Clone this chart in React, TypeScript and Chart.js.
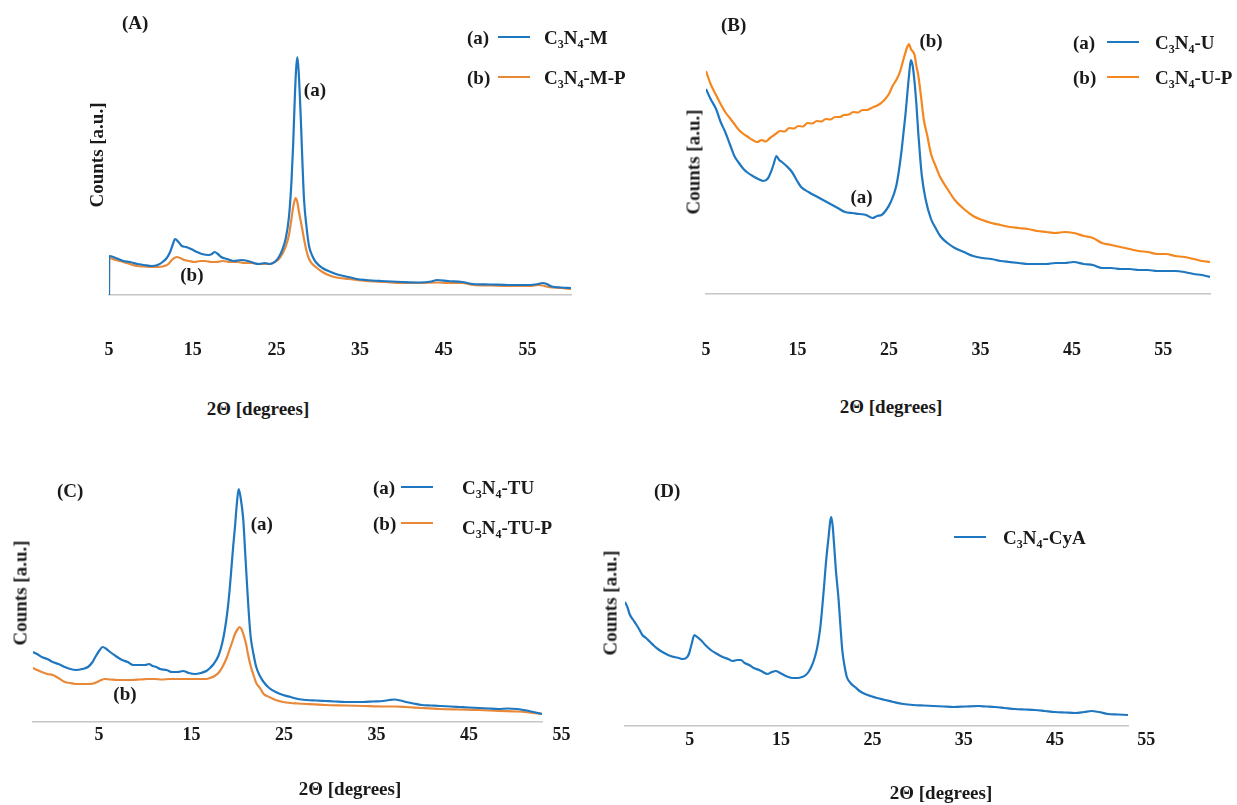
import React, { useEffect, useRef } from 'react';
import { Chart, registerables } from 'chart.js';

Chart.register(...registerables);

const FONT = '"Liberation Serif", "Times New Roman", serif';
const TEXT = '#1a1a1a';
const BLUE = '#1f77c0';
const ORANGE = '#e8893a';
const ORANGE_B = '#f5871f';

// tick labels
const X_TICKS = [5, 15, 25, 35, 45, 55];

// Panel A: C3N4-M (a), C3N4-M-P (b)
const A_M: number[][] = [
  [5, 0], [5.02, 39], [5.8, 37], [6.7, 34], [7.5, 33], [8.4, 31], [9.2, 30], [10.1, 29], [10.8, 30], [11.4, 33],
  [11.9, 37], [12.3, 43], [12.6, 50], [12.9, 56], [13.3, 53], [13.7, 49], [14.2, 48], [14.8, 46], [15.5, 43], [16.1, 41],
  [16.9, 40], [17.3, 41], [17.6, 43], [18.0, 41], [18.4, 38], [19.1, 36], [19.9, 34], [20.8, 35], [21.6, 34], [22.3, 32],
  [22.9, 31], [23.6, 32], [24.2, 31], [24.8, 33], [25.3, 38], [25.7, 45], [26.1, 56], [26.5, 78], [26.8, 113], [27.0, 150],
  [27.2, 197], [27.35, 225], [27.5, 238], [27.65, 225], [27.9, 180], [28.1, 135], [28.3, 96], [28.6, 68], [28.9, 49], [29.3, 39],
  [29.7, 33], [30.5, 27], [31.5, 23], [32.5, 20], [33.6, 18], [34.6, 16], [35.7, 15], [37.5, 14], [40.0, 13], [42.1, 12.5],
  [43.5, 13.5], [44.2, 15], [45.5, 14], [47.2, 13], [48.5, 11], [50.5, 10.5], [52.8, 10], [55.3, 10], [56.3, 11], [56.8, 12],
  [57.3, 11], [57.9, 8.5], [59.0, 7.5], [60.2, 7],
];
const A_MP: number[][] = [
  [5, 0], [5.02, 37], [5.8, 35], [6.7, 33], [7.5, 31], [8.4, 29], [9.2, 28.5], [10.1, 28], [10.9, 28], [11.6, 29],
  [12.1, 31], [12.5, 35], [13.1, 38], [13.5, 37], [14.0, 35], [14.6, 34], [15.2, 33], [15.9, 34], [16.5, 34], [17.2, 33],
  [17.8, 33], [18.6, 34], [19.5, 33], [20.4, 33], [21.2, 32], [22.0, 32], [22.9, 31], [23.6, 31], [24.2, 31], [24.8, 33],
  [25.3, 36], [25.7, 41], [26.1, 48], [26.5, 60], [26.8, 76], [27.05, 90], [27.3, 97], [27.5, 93], [27.7, 83], [28.0, 70],
  [28.3, 56], [28.6, 44], [28.9, 36], [29.3, 31], [29.7, 28], [30.5, 23], [31.5, 19], [32.5, 17], [33.6, 16], [35.7, 14],
  [38.0, 13], [40.0, 12], [42.1, 12], [44.2, 12.5], [45.5, 12], [47.2, 12], [48.5, 10], [50.5, 9.5], [52.8, 9], [55.3, 9],
  [56.3, 10], [56.8, 9.5], [57.5, 8], [59.0, 7], [60.2, 6],
];

// Panel B: C3N4-U (a), C3N4-U-P (b)
const B_U: number[][] = [
  [5.0, 205], [5.5, 195], [6.1, 185], [6.6, 172], [7.1, 162], [7.6, 150], [8.1, 138], [8.6, 131], [9.1, 125], [9.6, 121],
  [10.1, 118], [10.7, 115], [11.3, 113], [11.8, 116], [12.1, 122], [12.4, 130], [12.7, 138], [13.0, 134], [13.3, 132], [13.8, 128],
  [14.4, 122], [14.9, 114], [15.4, 107], [16.2, 102], [17.0, 98], [17.8, 94], [18.6, 90], [19.4, 86], [20.2, 82], [21.0, 81],
  [21.8, 80], [22.5, 79], [23.2, 76], [23.7, 78], [24.2, 79], [24.7, 84], [25.2, 92], [25.8, 108], [26.1, 124], [26.4, 145],
  [26.8, 179], [27.2, 219], [27.4, 234], [27.6, 228], [27.8, 212], [28.0, 190], [28.2, 162], [28.4, 138], [28.6, 118], [29.0, 95],
  [29.6, 75], [30.1, 66], [30.6, 58], [31.4, 51], [32.2, 46], [33.2, 42], [34.2, 38], [35.2, 36], [36.2, 35], [37.2, 33],
  [38.2, 32], [39.2, 31], [40.2, 30], [41.2, 30], [42.2, 30], [43.2, 31], [44.2, 31], [45.2, 32], [46.3, 30], [47.3, 29],
  [48.3, 26], [49.3, 26], [50.3, 25], [51.3, 25], [52.3, 24], [53.3, 24], [54.3, 23], [55.3, 23], [56.3, 23], [57.3, 22],
  [58.3, 20], [59.2, 19], [60.1, 17],
];
const B_UP: number[][] = [
  [5.0, 223], [5.5, 210], [6.1, 199], [6.6, 190], [7.1, 182], [7.6, 176], [8.1, 170], [8.6, 164], [9.1, 160], [9.6, 157],
  [10.1, 154], [10.6, 152], [11.1, 154], [11.5, 152.5], [12.0, 156], [12.6, 160], [13.1, 163], [13.6, 162.5], [14.1, 166], [14.6, 165.5],
  [15.1, 168], [15.6, 167.5], [16.1, 171], [16.6, 170.5], [17.1, 173], [17.6, 172.5], [18.1, 175], [18.6, 174.5], [19.1, 177], [19.6, 177],
  [20.1, 179], [20.6, 179.5], [21.1, 182], [21.6, 181.5], [22.1, 184], [22.6, 184], [23.1, 186], [23.6, 188], [24.0, 190], [24.5, 194],
  [25.0, 200], [25.4, 208], [25.8, 214], [26.2, 222], [26.6, 235], [27.0, 247], [27.2, 250], [27.4, 245], [27.8, 239], [28.0, 228],
  [28.2, 219], [28.5, 198], [28.8, 175], [29.2, 158], [29.6, 140], [30.1, 128], [30.6, 117], [31.4, 105], [32.2, 94], [33.2, 85],
  [34.2, 78], [35.2, 74], [36.2, 71], [37.2, 69], [38.2, 67], [39.2, 66], [40.2, 65], [41.2, 63], [42.2, 62], [43.2, 61],
  [44.2, 62], [45.2, 61], [46.3, 58], [47.3, 56], [48.3, 51], [49.3, 49], [50.3, 47], [51.3, 45], [52.3, 43], [53.3, 42],
  [54.3, 40], [55.3, 40], [56.3, 38], [57.3, 37], [58.3, 35], [59.2, 33], [60.1, 32],
];

// Panel C: C3N4-TU (a), C3N4-TU-P (b)
const C_TU: number[][] = [
  [-2.14, 70], [-1.7, 68], [-1.2, 65], [-0.6, 63], [0, 60], [0.6, 58], [1.3, 55], [1.9, 53], [2.5, 52], [3.2, 53],
  [3.8, 55], [4.3, 60], [4.6, 65], [5.0, 71], [5.4, 75], [5.8, 73], [6.2, 70], [6.8, 66], [7.5, 62], [8.1, 60],
  [8.7, 57], [9.4, 57], [10.0, 57], [10.4, 58], [10.8, 56], [11.2, 55], [11.6, 53], [12.3, 52], [12.9, 50], [13.5, 50],
  [14.1, 51], [14.7, 49], [15.4, 48], [16.0, 49], [16.6, 51], [17.0, 54], [17.4, 58], [17.9, 66], [18.3, 78], [18.6, 92],
  [18.9, 112], [19.1, 130], [19.3, 152], [19.5, 175], [19.7, 195], [19.9, 218], [20.1, 233], [20.3, 225], [20.6, 202], [20.8, 170],
  [21.0, 138], [21.2, 108], [21.4, 85], [21.7, 68], [22.0, 55], [22.4, 46], [22.8, 40], [23.4, 34], [24.1, 30], [24.9, 27],
  [25.7, 25], [26.5, 23], [27.4, 22], [28.5, 21.5], [29.5, 21], [30.5, 20.5], [31.6, 20], [32.6, 20], [33.6, 20], [34.6, 20.5],
  [35.7, 21], [36.4, 22], [37.0, 22.5], [37.6, 21.5], [38.2, 20], [39.0, 18.5], [39.9, 17], [40.9, 16.5], [41.9, 16], [43.0, 15.5],
  [44.0, 15], [45.0, 14.5], [46.1, 14], [47.1, 13.5], [48.2, 13], [49.2, 13.5], [50.2, 13], [50.9, 12], [51.5, 11], [52.2, 9.5],
  [52.9, 8],
];
const C_TUP: number[][] = [
  [-2.14, 54], [-1.7, 52], [-1.2, 50], [-0.6, 48], [0, 47], [0.6, 44], [1.3, 40], [1.9, 39], [2.5, 38], [3.2, 38],
  [3.8, 38], [4.4, 38.5], [4.8, 40], [5.6, 43], [6.2, 42.5], [7.0, 42], [7.8, 42], [8.6, 42], [9.4, 42.5], [10.2, 43],
  [11.0, 43], [11.8, 42.5], [12.6, 43], [13.4, 43], [14.2, 43], [15.0, 43], [15.8, 43], [16.6, 43], [17.0, 44], [17.5, 46],
  [18.0, 50], [18.4, 56], [18.8, 64], [19.1, 72], [19.4, 80], [19.7, 88], [20.0, 93], [20.2, 95], [20.4, 93], [20.6, 88],
  [20.9, 78], [21.1, 68], [21.4, 56], [21.7, 47], [22.0, 39], [22.4, 34], [22.8, 28], [23.4, 25], [24.1, 22], [24.9, 20],
  [25.7, 19], [26.5, 18.5], [27.4, 18], [29.5, 17], [31.6, 16.5], [33.6, 16], [35.7, 15.5], [37.0, 15.5], [38.2, 15], [39.9, 14],
  [41.9, 13], [44.0, 12.5], [46.1, 12], [48.2, 11], [50.2, 10.5], [51.5, 9.5], [52.9, 8],
];

// Panel D: C3N4-CyA
const D_CYA: number[][] = [
  [-2.1, 124], [-1.8, 118], [-1.6, 112], [-1.2, 106], [-0.9, 102], [-0.5, 96], [-0.2, 91], [0.2, 88], [0.65, 84], [1.1, 80],
  [1.5, 77], [2.0, 74], [2.4, 72], [2.9, 70], [3.3, 69], [3.8, 68], [4.2, 67], [4.6, 68], [4.9, 72], [5.2, 82],
  [5.5, 91], [5.8, 89], [6.2, 86], [6.7, 81], [7.3, 76], [8.0, 72], [8.6, 69], [9.2, 67], [9.7, 65], [10.2, 66],
  [10.6, 66], [11.0, 63], [11.5, 61], [12.0, 58], [12.6, 56], [13.0, 54], [13.5, 52], [14.0, 54], [14.4, 55], [14.9, 53],
  [15.3, 51], [15.8, 49], [16.2, 48], [16.8, 48], [17.3, 49], [17.7, 51], [18.0, 54], [18.3, 59], [18.6, 66], [18.9, 76],
  [19.1, 86], [19.3, 99], [19.5, 118], [19.7, 139], [19.9, 162], [20.2, 189], [20.4, 206], [20.5, 209], [20.65, 200], [20.8, 182],
  [21.0, 156], [21.3, 126], [21.5, 100], [21.7, 76], [21.95, 60], [22.2, 49], [22.6, 43], [23.1, 39], [23.6, 35], [24.2, 32],
  [24.8, 30], [25.5, 28], [26.4, 26], [27.3, 24], [28.4, 22], [29.5, 21], [30.6, 20.5], [31.7, 20], [32.8, 19.5], [33.9, 19],
  [35.2, 19.5], [36.6, 20], [37.5, 19.5], [38.4, 19], [39.5, 18], [40.6, 17], [41.7, 16.5], [42.8, 16], [43.9, 15], [45.0, 14],
  [46.1, 13.5], [47.2, 13], [48.2, 14], [49.0, 15], [49.8, 14], [50.8, 12], [51.9, 11.5], [53.0, 11],
];

type Note = { x: number; y: number; text: string };
type Series = { data: number[][]; color: string };
type PanelDef = {
  area: { l: number; t: number; r: number; b: number };
  xMin: number;
  xMax: number;
  yMax: number;
  tickPad: number;
  series: Series[];
  notes: Note[];
};

const PANELS: PanelDef[] = [
  {
    area: { l: 109, t: 40, r: 571, b: 295 }, xMin: 5, xMax: 60.2, yMax: 255, tickPad: 45,
    series: [{ data: A_M, color: BLUE }, { data: A_MP, color: ORANGE }],
    notes: [{ x: 29.6, y: 204, text: '(a)' }, { x: 14.9, y: 19, text: '(b)' }],
  },
  {
    area: { l: 706, t: 34, r: 1210, b: 294 }, xMin: 5, xMax: 60.1, yMax: 260, tickPad: 46,
    series: [{ data: B_U, color: BLUE }, { data: B_UP, color: ORANGE_B }],
    notes: [{ x: 29.6, y: 252, text: '(b)' }, { x: 22.0, y: 96, text: '(a)' }],
  },
  {
    area: { l: 33, t: 472, r: 542, b: 722 }, xMin: -2.14, xMax: 52.9, yMax: 250, tickPad: 3,
    series: [{ data: C_TU, color: BLUE }, { data: C_TUP, color: ORANGE }],
    notes: [{ x: 22.6, y: 197, text: '(a)' }, { x: 7.8, y: 27, text: '(b)' }],
  },
  {
    area: { l: 625, t: 486, r: 1128, b: 726 }, xMin: -2.1, xMax: 53.0, yMax: 240, tickPad: 4,
    series: [{ data: D_CYA, color: BLUE }],
    notes: [],
  },
];

const notesPlugin = {
  id: 'notes',
  afterDatasetsDraw(chart: any, _args: any, opts: any) {
    const { ctx, scales } = chart;
    const items: Note[] = (opts && opts.items) || [];
    ctx.save();
    ctx.font = `bold 19px ${FONT}`;
    ctx.fillStyle = TEXT;
    ctx.textAlign = 'center';
    ctx.textBaseline = 'middle';
    for (const n of items) {
      ctx.fillText(n.text, scales.x.getPixelForValue(n.x), scales.y.getPixelForValue(n.y));
    }
    ctx.restore();
  },
};

const PADL = 70;
const PADR = 100;
const PADT = 12;
const AXH = 90;

function PanelChart({ p }: { p: PanelDef }) {
  const ref = useRef<HTMLCanvasElement>(null);
  const w = p.area.r - p.area.l + PADL + PADR;
  const h = PADT + (p.area.b - p.area.t) + AXH;
  useEffect(() => {
    const chart = new Chart(ref.current as HTMLCanvasElement, {
      type: 'line',
      data: {
        datasets: p.series.map((s) => ({
          data: s.data.map(([x, y]) => ({ x, y })),
          borderColor: s.color,
          borderWidth: 2.2,
          pointRadius: 0,
          fill: false,
          cubicInterpolationMode: 'monotone' as const,
        })),
      },
      options: {
        animation: false,
        responsive: false,
        maintainAspectRatio: false,
        events: [],
        layout: { padding: { left: PADL, right: PADR, top: PADT, bottom: 0 } },
        plugins: {
          legend: { display: false },
          tooltip: { enabled: false },
          notes: { items: p.notes },
        } as any,
        scales: {
          x: {
            type: 'linear',
            min: p.xMin,
            max: p.xMax,
            grid: { display: false, drawTicks: false },
            border: { display: true, color: '#c6c6c6', width: 1.5 },
            ticks: {
              padding: p.tickPad,
              autoSkip: false,
              maxRotation: 0,
              color: TEXT,
              font: { family: FONT, size: 18, weight: 'bold' },
              callback: (v: any) => String(v),
            },
            afterBuildTicks: (s: any) => {
              s.ticks = X_TICKS.map((v) => ({ value: v }));
            },
            afterFit: (s: any) => {
              s.height = AXH;
            },
          },
          y: { display: false, min: 0, max: p.yMax },
        },
      },
      plugins: [notesPlugin],
    } as any);
    return () => chart.destroy();
  }, []);
  return (
    <canvas
      ref={ref}
      width={w}
      height={h}
      style={{ position: 'absolute', left: p.area.l - PADL, top: p.area.t - PADT, width: w, height: h }}
    />
  );
}

const txt: React.CSSProperties = {
  position: 'absolute',
  fontFamily: FONT,
  fontWeight: 'bold',
  fontSize: 19,
  color: TEXT,
  whiteSpace: 'nowrap',
  lineHeight: 1,
};

function Label({ x, y, children, center }: { x: number; y: number; children: React.ReactNode; center?: boolean }) {
  return (
    <div style={{ ...txt, left: x, top: y, transform: center ? 'translate(-50%,-50%)' : 'translate(0,-50%)' }}>
      {children}
    </div>
  );
}

function YTitle({ x, y }: { x: number; y: number }) {
  return (
    <div style={{ ...txt, left: x, top: y, transform: 'translate(-50%,-50%) rotate(-90deg)' }}>Counts [a.u.]</div>
  );
}

const subStyle: React.CSSProperties = { fontSize: 12, verticalAlign: '-4px', lineHeight: 0 };

function Formula({ suffix }: { suffix: string }) {
  return (
    <span>
      C<sub style={subStyle}>3</sub>N<sub style={subStyle}>4</sub>-{suffix}
    </span>
  );
}

function LegendLine({ x1, x2, y, color }: { x1: number; x2: number; y: number; color: string }) {
  return <div style={{ position: 'absolute', left: x1, top: y - 1.25, width: x2 - x1, height: 2.5, background: color }} />;
}

export default function App() {
  return (
    <div style={{ position: 'absolute', left: 0, top: 0, width: 1237, height: 805, background: '#fff', overflow: 'hidden' }}>
      {PANELS.map((p, i) => (
        <PanelChart key={i} p={p} />
      ))}

      {/* Panel A */}
      <Label x={122} y={22}>(A)</Label>
      <Label x={467} y={37}>(a)</Label>
      <LegendLine x1={498} x2={530} y={37} color={BLUE} />
      <Label x={544} y={37}><Formula suffix="M" /></Label>
      <Label x={467} y={77}>(b)</Label>
      <LegendLine x1={498} x2={530} y={77} color={ORANGE} />
      <Label x={544} y={77}><Formula suffix="M-P" /></Label>
      <YTitle x={96} y={155} />
      <Label x={258} y={408} center>2Θ [degrees]</Label>

      {/* Panel B */}
      <Label x={721} y={24}>(B)</Label>
      <Label x={1073} y={42}>(a)</Label>
      <LegendLine x1={1107} x2={1139} y={42} color={BLUE} />
      <Label x={1155} y={42}><Formula suffix="U" /></Label>
      <Label x={1073} y={77}>(b)</Label>
      <LegendLine x1={1107} x2={1139} y={77} color={ORANGE_B} />
      <Label x={1155} y={77}><Formula suffix="U-P" /></Label>
      <YTitle x={693} y={162} />
      <Label x={891} y={406} center>2Θ [degrees]</Label>

      {/* Panel C */}
      <Label x={57} y={490}>(C)</Label>
      <Label x={373} y={487}>(a)</Label>
      <LegendLine x1={401} x2={433} y={487} color={BLUE} />
      <Label x={462} y={487}><Formula suffix="TU" /></Label>
      <Label x={373} y={523}>(b)</Label>
      <LegendLine x1={401} x2={433} y={523} color={ORANGE} />
      <Label x={462} y={527}><Formula suffix="TU-P" /></Label>
      <YTitle x={20} y={593} />
      <Label x={350} y={788} center>2Θ [degrees]</Label>

      {/* Panel D */}
      <Label x={654} y={490}>(D)</Label>
      <LegendLine x1={954} x2={986} y={537} color={BLUE} />
      <Label x={1003} y={537}><Formula suffix="CyA" /></Label>
      <YTitle x={610} y={603} />
      <Label x={941} y={792} center>2Θ [degrees]</Label>
    </div>
  );
}
